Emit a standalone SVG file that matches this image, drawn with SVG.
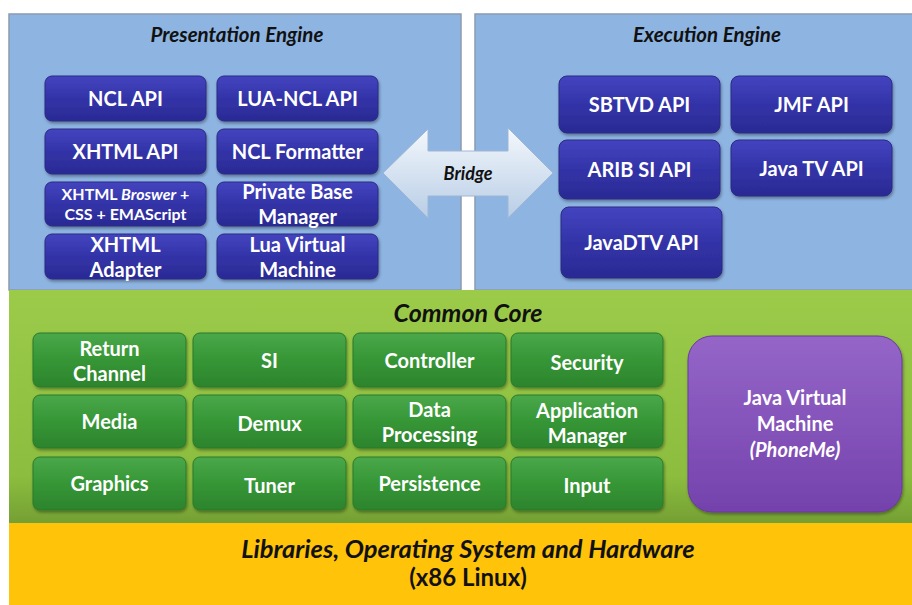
<svg xmlns="http://www.w3.org/2000/svg" width="912" height="605" viewBox="0 0 912 605">
<defs>
<linearGradient id="gBlueNode" x1="0" y1="0" x2="0" y2="1"><stop offset="0" stop-color="#4444c0"/><stop offset="0.5" stop-color="#3333a8"/><stop offset="1" stop-color="#2a2a94"/></linearGradient>
<linearGradient id="gGreenNode" x1="0" y1="0" x2="0" y2="1"><stop offset="0" stop-color="#4aa84a"/><stop offset="0.5" stop-color="#369636"/><stop offset="1" stop-color="#2c842c"/></linearGradient>
<linearGradient id="gPurple" x1="0" y1="0" x2="0" y2="1"><stop offset="0" stop-color="#9566c8"/><stop offset="1" stop-color="#7442ac"/></linearGradient>
<linearGradient id="gGreenPanel" x1="0" y1="0" x2="0" y2="1"><stop offset="0" stop-color="#9ccb4a"/><stop offset="0.8" stop-color="#8cbd3e"/><stop offset="1" stop-color="#74a034"/></linearGradient>
<linearGradient id="gBridge" x1="0" y1="0" x2="0" y2="1"><stop offset="0" stop-color="#f4f8fc"/><stop offset="1" stop-color="#b8cde6"/></linearGradient>
<filter id="sh" x="-10%" y="-10%" width="120%" height="130%"><feDropShadow dx="1" dy="2" stdDeviation="1.5" flood-color="#000" flood-opacity="0.35"/></filter>
</defs>
<style>
.panel{fill:#8eb4e2;stroke:#8a9bb0;stroke-width:1.5}
.bn rect{fill:url(#gBlueNode);stroke:#2a2a80;stroke-width:1;filter:url(#sh)}
.gn rect{fill:url(#gGreenNode);stroke:#2a7a2a;stroke-width:1;filter:url(#sh)}
.t{font-family:Lato,"Open Sans","Liberation Sans",sans-serif;font-weight:bold;fill:#fff;font-size:20px;text-anchor:middle}
.s{font-size:16px}
.h{font-family:Lato,"Open Sans","Liberation Sans",sans-serif;font-weight:bold;font-style:italic;fill:#111;text-anchor:middle}
.up{font-family:Lato,"Open Sans","Liberation Sans",sans-serif;font-weight:bold;fill:#111;text-anchor:middle}
</style>
<rect width="912" height="605" fill="#fff"/>
<!-- panels -->
<rect class="panel" x="9" y="14" width="452" height="276"/>
<rect class="panel" x="475" y="14" width="440" height="276"/>
<rect x="9" y="290" width="905" height="233" fill="url(#gGreenPanel)"/>
<rect x="9" y="523" width="905" height="82" fill="#ffc30a"/>
<text class="h" x="237" y="42" font-size="20.5">Presentation Engine</text>
<text class="h" x="707" y="42" font-size="20.5">Execution Engine</text>
<text class="h" x="468" y="322" font-size="25">Common Core</text>
<text class="h" x="468" y="558" font-size="25.5">Libraries, Operating System and Hardware</text>
<text class="up" x="468" y="586" font-size="24">(x86 Linux)</text>

<g id="connectors">
<g id="bridge">
<path d="M383,173 L428,129 L428,151 L508,151 L508,128 L553,173 L508,218 L508,196 L428,196 L428,218 Z" fill="url(#gBridge)" stroke="#9fb6d4" stroke-width="1"/>
<text class="h" x="468" y="180" font-size="18">Bridge</text>
</g>
</g>

<!-- Presentation Engine nodes -->
<g id="ncl-api" class="bn"><rect x="45" y="76" width="161" height="45" rx="7"/><text class="t" x="125.5" y="106">NCL API</text></g>
<g id="lua-ncl-api" class="bn"><rect x="217" y="76" width="161" height="45" rx="7"/><text class="t" x="297.5" y="106">LUA-NCL API</text></g>
<g id="xhtml-api" class="bn"><rect x="45" y="129" width="161" height="45" rx="7"/><text class="t" x="125.5" y="159">XHTML API</text></g>
<g id="ncl-formatter" class="bn"><rect x="217" y="129" width="161" height="45" rx="7"/><text class="t" x="297.5" y="159">NCL Formatter</text></g>
<g id="xhtml-browser" class="bn"><rect x="45" y="182" width="161" height="44" rx="7"/><text class="t s" x="125.5" y="200">XHTML <tspan font-style="italic">Broswer</tspan> +</text><text class="t s" x="125.5" y="220">CSS  + EMAScript</text></g>
<g id="private-base-manager" class="bn"><rect x="217" y="182" width="161" height="44" rx="7"/><text class="t" x="297.5" y="199">Private Base</text><text class="t" x="297.5" y="224">Manager</text></g>
<g id="xhtml-adapter" class="bn"><rect x="45" y="234" width="161" height="45" rx="7"/><text class="t" x="125.5" y="252">XHTML</text><text class="t" x="125.5" y="277">Adapter</text></g>
<g id="lua-vm" class="bn"><rect x="217" y="234" width="161" height="45" rx="7"/><text class="t" x="297.5" y="252">Lua Virtual</text><text class="t" x="297.5" y="277">Machine</text></g>

<!-- Execution Engine nodes -->
<g id="sbtvd-api" class="bn"><rect x="559" y="76" width="161" height="57" rx="8"/><text class="t" x="639.5" y="112">SBTVD API</text></g>
<g id="jmf-api" class="bn"><rect x="731" y="76" width="161" height="57" rx="8"/><text class="t" x="811.5" y="112">JMF API</text></g>
<g id="arib-si-api" class="bn"><rect x="559" y="140" width="161" height="59" rx="8"/><text class="t" x="639.5" y="177">ARIB SI API</text></g>
<g id="java-tv-api" class="bn"><rect x="731" y="140" width="161" height="56" rx="8"/><text class="t" x="811.5" y="176">Java TV API</text></g>
<g id="javadtv-api" class="bn"><rect x="561" y="207" width="161" height="71" rx="8"/><text class="t" x="641.5" y="250">JavaDTV API</text></g>

<!-- Common Core nodes -->
<g id="return-channel" class="gn"><rect x="33" y="333" width="153" height="54" rx="7"/><text class="t" x="109.5" y="356">Return</text><text class="t" x="109.5" y="381">Channel</text></g>
<g id="si" class="gn"><rect x="193" y="333" width="153" height="54" rx="7"/><text class="t" x="269.5" y="368">SI</text></g>
<g id="controller" class="gn"><rect x="353" y="333" width="153" height="54" rx="7"/><text class="t" x="429.5" y="368">Controller</text></g>
<g id="security" class="gn"><rect x="511" y="333" width="152" height="54" rx="7"/><text class="t" x="587" y="370">Security</text></g>
<g id="media" class="gn"><rect x="33" y="395" width="153" height="53" rx="7"/><text class="t" x="109.5" y="429">Media</text></g>
<g id="demux" class="gn"><rect x="193" y="395" width="153" height="53" rx="7"/><text class="t" x="269.5" y="431">Demux</text></g>
<g id="data-processing" class="gn"><rect x="353" y="395" width="153" height="53" rx="7"/><text class="t" x="429.5" y="417">Data</text><text class="t" x="429.5" y="442">Processing</text></g>
<g id="application-manager" class="gn"><rect x="511" y="395" width="152" height="53" rx="7"/><text class="t" x="587" y="418">Application</text><text class="t" x="587" y="443">Manager</text></g>
<g id="graphics" class="gn"><rect x="33" y="457" width="153" height="53" rx="7"/><text class="t" x="109.5" y="491">Graphics</text></g>
<g id="tuner" class="gn"><rect x="193" y="457" width="153" height="53" rx="7"/><text class="t" x="269.5" y="493">Tuner</text></g>
<g id="persistence" class="gn"><rect x="353" y="457" width="153" height="53" rx="7"/><text class="t" x="429.5" y="491">Persistence</text></g>
<g id="input" class="gn"><rect x="511" y="457" width="152" height="53" rx="7"/><text class="t" x="587" y="493">Input</text></g>

<g id="jvm"><rect x="688" y="336" width="214" height="176" rx="24" fill="url(#gPurple)" stroke="#6a3a9e" stroke-width="1" filter="url(#sh)"/><text class="t" x="795" y="405">Java Virtual</text><text class="t" x="795" y="431">Machine</text><text class="t" x="795" y="457" font-style="italic">(PhoneMe)</text></g>
</svg>
